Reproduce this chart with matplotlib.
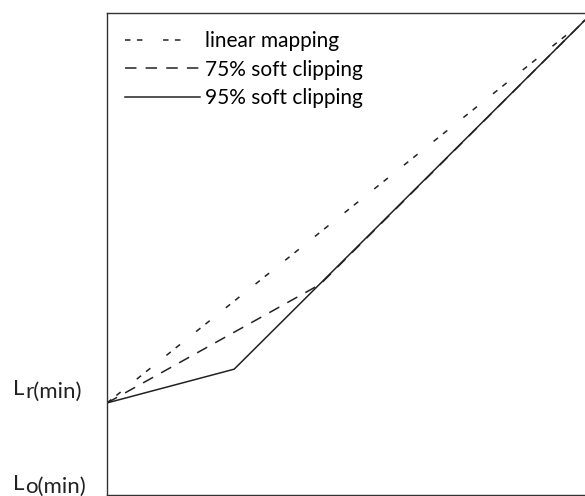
import matplotlib
matplotlib.use('Agg')
import matplotlib.pyplot as plt

plt.rcParams['font.family'] = ['Lato', 'DejaVu Sans']

# 입력 휘도 (0 = Lo(min), 1 = 최대)
x_linear = [0.0, 1.0]
y_linear = [0.191, 0.985]

x_soft75 = [0.0, 0.446, 1.0]
y_soft75 = [0.191, 0.437, 0.985]

x_soft95 = [0.0, 0.266, 1.0]
y_soft95 = [0.191, 0.261, 0.985]

labels = ['linear mapping', '75% soft clipping', '95% soft clipping']
ylabels = [('L', 'r(min)'), ('L', 'o(min)')]

fig = plt.figure(figsize=(5.85, 4.96), dpi=100)
ax = fig.add_axes([0.183, 0.002, 0.817, 0.972])

ax.plot(x_linear, y_linear, color='#222222', lw=1.1, dashes=(3.6, 4.2, 3.6, 13.5), label=labels[0])
ax.plot(x_soft75, y_soft75, color='#222222', lw=1.1, dashes=(7.5, 6.0), label=labels[1])
ax.plot(x_soft95, y_soft95, color='#222222', lw=1.1, label=labels[2])

ax.set_xlim(0, 1)
ax.set_ylim(0, 1)
ax.set_xticks([])
ax.set_yticks([])
for s in ['left', 'top', 'bottom']:
    ax.spines[s].set_color('#333333')
    ax.spines[s].set_linewidth(1.0)
ax.spines['right'].set_visible(False)

# y축 라벨 (L + 아래첨자), 픽셀 위치 기준
for (main, sub), ypix in zip(ylabels, [395, 490]):
    fig.text(13 / 585, 1 - ypix / 496, main, fontsize=16, color='#222222',
             ha='left', va='baseline')
    fig.text(25 / 585, 1 - (ypix + 3) / 496, sub, fontsize=16, color='#222222',
             ha='left', va='baseline')

ax.legend(loc='upper left', bbox_to_anchor=(0.021, 0.979), frameon=False,
          fontsize=15, handlelength=3.6, handletextpad=0.2, labelspacing=0.4,
          borderaxespad=0)

fig.savefig('out.png', dpi=100)
